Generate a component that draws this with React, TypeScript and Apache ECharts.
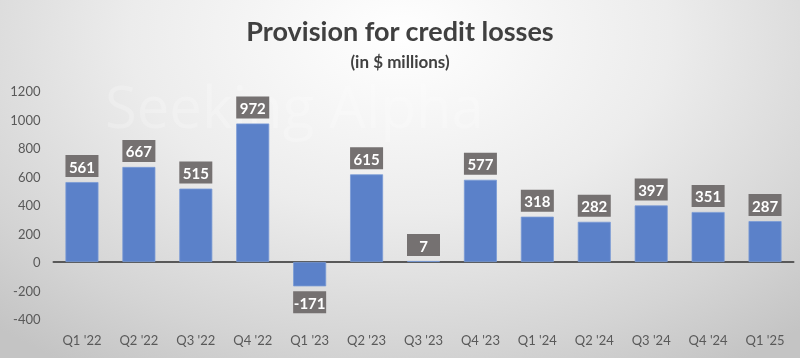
import React, { useEffect, useRef } from "react";
import * as echarts from "echarts";

const categories = ["Q1 '22", "Q2 '22", "Q3 '22", "Q4 '22", "Q1 '23", "Q2 '23", "Q3 '23", "Q4 '23", "Q1 '24", "Q2 '24", "Q3 '24", "Q4 '24", "Q1 '25"];
const values = [561, 667, 515, 972, -171, 615, 7, 577, 318, 282, 397, 351, 287];
const titleText = "Provision for credit losses";
const subtitleText = "(in $ millions)";
const watermarkText = "Seeking Alpha";

export default function App() {
  const ref = useRef<HTMLDivElement>(null);
  useEffect(() => {
    if (!ref.current) return;
    const chart = echarts.init(ref.current, null, { renderer: "svg" });
    const font = "Lato, 'Open Sans', sans-serif";
    chart.setOption({
      animation: false,
      backgroundColor: "transparent",
      title: [
        { text: titleText, left: "center", top: 12, textStyle: { fontFamily: font, fontSize: 27, fontWeight: "bold", color: "#404040" } },
        { text: subtitleText, left: "center", top: 48, textStyle: { fontFamily: font, fontSize: 17, fontWeight: "bold", color: "#404040" } },
      ],
      graphic: [
        { type: "text", left: 105, top: 76, silent: true, z: -1, style: { text: watermarkText, font: "58px 'Open Sans', sans-serif", fill: "rgba(255,255,255,0.22)" } },
      ],
      grid: { left: 53.5, right: 6.5, top: 91, bottom: 39, containLabel: false },
      xAxis: {
        type: "category",
        data: categories,
        axisLine: { show: true, onZero: true, lineStyle: { color: "#595959", width: 2 } },
        axisTick: { show: false },
        axisLabel: { color: "#595959", fontSize: 13, fontFamily: font, margin: 14 },
        position: "bottom",
      },
      yAxis: {
        type: "value",
        min: -400,
        max: 1200,
        interval: 200,
        splitLine: { show: false },
        axisLine: { show: false },
        axisTick: { show: false },
        axisLabel: { color: "#595959", fontSize: 13, fontFamily: font, margin: 13, formatter: (v: number) => String(v) },
      },
      series: [
        {
          type: "bar",
          data: values.map((v) => ({
            value: v,
            label: { position: v < 0 ? "bottom" : "top" },
          })),
          barWidth: "58%",
          itemStyle: { color: "#5B81C9", borderColor: "#7a9ad6", borderWidth: 0.8 },
          label: {
            show: true,
            distance: 5,
            color: "#ffffff",
            fontWeight: "bold",
            fontSize: 15,
            fontFamily: font,
            backgroundColor: "#757171",
            padding: [4, 6, 3, 6],
            width: 21,
            align: "center",
          },
        },
      ],
    });
    return () => chart.dispose();
  }, []);
  return (
    <div
      ref={ref}
      style={{
        position: "fixed",
        left: 0,
        top: 0,
        width: 800,
        height: 358,
        background: "radial-gradient(ellipse 75% 110% at 50% 10%, #ffffff 0%, #ececec 45%, #d4d4d4 80%, #c4c4c4 100%)",
      }}
    />
  );
}
